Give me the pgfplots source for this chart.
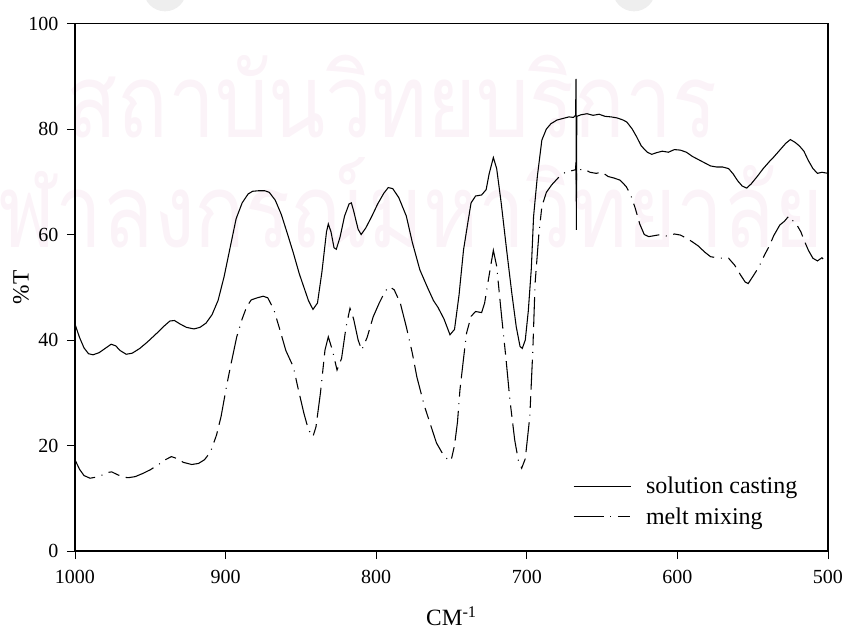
\documentclass[border=0pt]{standalone}
\usepackage{pgfplots}
\pgfplotsset{compat=1.18}
\usepackage{fontspec}
\setmainfont{Liberation Serif}
\newfontfamily\thaifont[Script=Thai]{Loma}
\definecolor{wm}{RGB}{251,243,248}
\definecolor{blob}{RGB}{238,238,238}
\pgfplotstableread{
x y
1000 43.0
997 40.5
994 38.5
991 37.4
988 37.2
984 37.6
980 38.4
976 39.2
973 38.9
970 38.0
966 37.3
962 37.5
957 38.4
952 39.6
946 41.2
941 42.6
937 43.6
934 43.7
930 43.0
926 42.4
921 42.1
917 42.4
913 43.2
909 44.8
905 47.5
901 52.0
897 57.5
893 63.0
889 66.0
885 67.7
882 68.2
878 68.3
874 68.3
871 68.0
867 66.5
863 63.8
859 60.2
855 56.5
851 52.5
848 50.0
845 47.5
842 45.8
839 47.0
836 53.0
833 60.5
831.8 62.0
830 60.5
828 57.5
826.5 57.2
824 59.5
821 63.5
818 65.8
816.5 66.0
815 64.5
812 61.0
810 60.0
807 61.2
803 63.4
799 65.8
795 67.8
792 68.9
789 68.7
785 67.0
780 63.5
776 58.5
771 53.3
766 50.0
762 47.5
759 46.2
755 44.0
751 41.0
748 42.0
745 48.5
742 57.1
739 62.5
737 66.0
734 67.3
730 67.5
727 68.5
725 71.5
722.2 74.6
720 72.5
717 66.0
713.4 57.1
710 49.0
707 42.5
704.5 38.8
703 38.4
701 40.0
699 45.5
697 53.5
695.5 63.4
693 71.0
690 77.9
687 80.0
684 81.0
680 81.7
676 82.0
672 82.3
669 82.2
667.6 82.6
667.3 89.5
667.1 60.9
666.8 82.4
664 82.7
660 82.9
656 82.6
652 82.8
648 82.4
644 82.3
640 82.1
636 81.7
633.5 81.3
630 80.0
627 78.5
624 76.8
620 75.6
617 75.2
614 75.5
610 75.8
606 75.6
602 76.1
598 76.0
594 75.6
590 74.8
586 74.2
582 73.6
578 73.0
574 72.8
570 72.8
566 72.5
563 71.5
560 70.2
557 69.2
554 68.8
551 69.6
547 71.0
543 72.5
539 73.8
536 74.7
532 76.0
528 77.3
525 78.0
522 77.5
519 76.8
516 75.8
513 74.0
510 72.5
507 71.6
504 71.8
500 71.6
}\solution
\pgfplotstableread{
x y
1000 17.3
997 15.5
994 14.3
990 13.8
986 14.0
982 14.4
978 14.9
975.6 15.0
972 14.5
968 14.0
964.6 13.9
960 14.1
955 14.7
950 15.4
945 16.3
940 17.3
936 17.9
932 17.5
928 16.8
922.5 16.4
918 16.6
914 17.3
910 18.8
906 22.0
903 25.5
899 31.8
896 36.0
892.6 40.6
889 44.0
886 46.3
883 47.6
879 48.0
875 48.3
872 48.0
868 45.8
864 42.0
860 38.0
855 34.9
852 31.0
848 26.1
845 23.0
842 21.7
840 23.5
837 30.0
834 38.1
831.8 40.6
829 38.0
826 34.3
823 36.5
820 42.5
817.4 46.0
815 44.0
812 40.0
809.6 38.1
806 40.5
802 44.4
798 47.0
794 49.3
791 50.1
788 49.5
784 47.0
780 42.5
776 37.5
773 33.0
768 27.5
764 24.0
760 20.5
756 18.5
753 17.5
750.3 17.1
748 20.0
746 24.5
744.4 30.5
742 36.5
740 41.3
737 44.5
734 45.4
730 45.2
728 47.0
726.6 49.5
724 54.0
722.2 57.0
720 54.0
716.7 44.4
714 37.0
711.2 28.6
708 21.0
705.5 17.0
703.4 15.7
701 17.5
698 25.5
696 38.0
694.5 50.7
692 60.0
690 65.3
687 68.0
683.5 69.4
679 70.8
674 71.9
670 72.1
667.6 72.3
667.3 74.0
667.1 69.5
666.8 72.2
662 72.4
658 71.8
654 71.6
650 71.8
646 71.0
642 70.7
638 70.3
634 69.1
631 67.5
628 65.0
625 62.0
622 60.0
619 59.6
615 59.8
611 60.0
607 59.7
602 60.1
598 59.9
594 59.3
590 58.6
586 57.8
582 56.7
578 55.8
574 55.6
570 55.5
566 55.5
562 54.2
558 52.3
555 51.0
553 50.7
550 52.0
546 53.8
542 56.2
539 57.8
536 59.8
532 61.8
529 62.5
526 63.5
524 62.8
521 62.0
518 60.5
516 59.0
513 57.0
510 55.5
507 55.0
504 55.6
502 55.0
500 55.2
}\melt
\begin{document}
\begin{tikzpicture}
% watermark (background); 1 px of the reference = 0.75pt
\fill[blob] (123.75pt,7.5pt) circle (16pt);
\fill[blob] (475.5pt,7.5pt) circle (16pt);
\node[text=wm,font=\thaifont\fontsize{77}{80}\selectfont,anchor=base,xscale=0.815] at (294pt,-103.5pt) {สถาบันวิทยบริการ};
\node[text=wm,font=\thaifont\fontsize{77}{80}\selectfont,anchor=base,xscale=0.815] at (290pt,-186pt) {จุฬาลงกรณ์มหาวิทยาลัย};
\begin{axis}[
  at={(56.25pt,-413.25pt)}, anchor=south west,
  scale only axis,
  width=564.75pt, height=395.6pt,
  x dir=reverse,
  xmin=500, xmax=1000, ymin=0, ymax=100,
  xtick={500,600,700,800,900,1000},
  ytick={0,20,40,60,80,100},
  xtick pos=bottom, ytick pos=left,
  tick align=outside,
  major tick length=6pt,
  tick style={black, line width=0.6pt},
  axis line style={line width=0.8pt},
  /pgf/number format/assume math mode=true,
  /pgf/number format/1000 sep={},
  tick label style={font=\fontsize{15}{17}\selectfont},
  xticklabel style={yshift=-4.5pt},
  yticklabel style={xshift=-3pt},
  xlabel={CM\textsuperscript{-1}},
  ylabel={\%T},
  label style={font=\fontsize{17.5}{20}\selectfont},
  xlabel style={at={(0.5,0)}, anchor=base, yshift=-56pt},
  ylabel style={at={(axis description cs:-0.0717,0.5)}, anchor=center},
  legend style={draw=none, fill=none, at={(0.661,0.146)}, anchor=north west,
    font=\fontsize{18}{20}\selectfont, row sep=5pt, inner sep=0pt,
    cells={anchor=west},
    /tikz/every odd column/.append style={column sep=9pt}},
  legend cell align=left,
  legend image code/.code={\draw[#1] (0pt,0pt) -- (43pt,0pt);},
]
\addplot[black, line width=0.8pt] table[x=x,y=y] {\solution};
\addlegendentry{solution casting}
\addplot[black, line width=0.8pt, dash pattern=on 22.5pt off 5pt on 0.75pt off 5pt on 8.75pt off 5pt] table[x=x,y=y] {\melt};
\addlegendentry{melt mixing}
\end{axis}
\pgfresetboundingbox
\path[use as bounding box] (0pt,0pt) rectangle (633.75pt,-472.5pt);
\end{tikzpicture}
\end{document}
